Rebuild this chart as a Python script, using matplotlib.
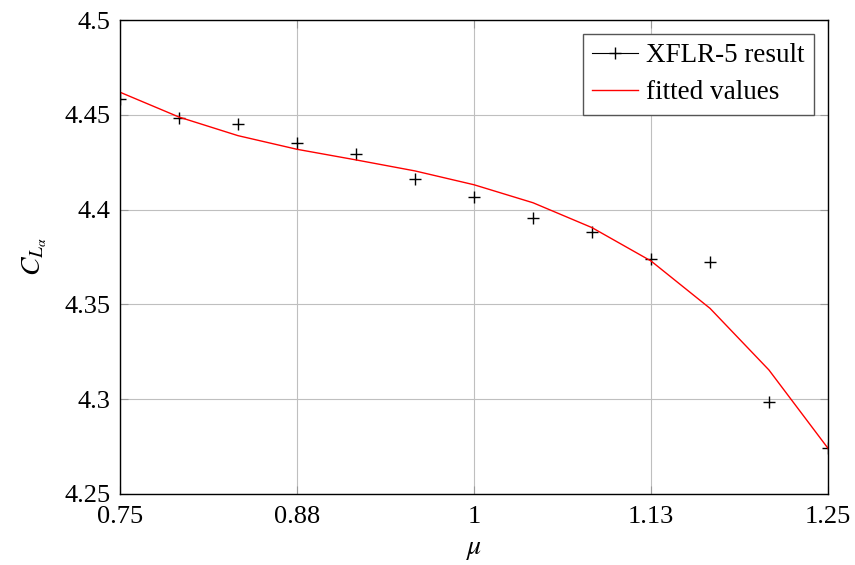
import numpy as np
import matplotlib
matplotlib.use('Agg')
import matplotlib.pyplot as plt

# Data
mu = [0.75, 0.7917, 0.8333, 0.875, 0.9167, 0.9583, 1.0, 1.0417, 1.0833, 1.125, 1.1667, 1.2083, 1.25]
cla_xflr = [4.4582, 4.4485, 4.4450, 4.4353, 4.4292, 4.4163, 4.4065, 4.3957, 4.3883, 4.3738, 4.3725, 4.2987, 4.2741]
cla_fit = [4.4619, 4.4488, 4.4390, 4.4318, 4.4262, 4.4204, 4.4131, 4.4036, 4.3905, 4.3729, 4.3479, 4.3154, 4.2741]

xticks = [0.75, 0.875, 1.0, 1.125, 1.25]
xticklabels = ['0.75', '0.88', '1', '1.13', '1.25']
yticks = [4.25, 4.3, 4.35, 4.4, 4.45, 4.5]
yticklabels = ['4.25', '4.3', '4.35', '4.4', '4.45', '4.5']

plt.rcParams['font.family'] = ['Liberation Serif', 'DejaVu Serif']
plt.rcParams['mathtext.fontset'] = 'stix'

fig = plt.figure(figsize=(8.55, 5.65), dpi=100)
ax = fig.add_axes([0.1404, 0.1257, 0.8280, 0.8389])

ax.plot(mu, cla_xflr, color='black', linewidth=0, marker='+',
        markersize=9, markeredgewidth=1.0, label='XFLR-5 result')
ax.plot(mu, cla_fit, color='red', linewidth=1.0, label='fitted values')

ax.set_xlim(0.75, 1.25)
ax.set_ylim(4.25, 4.5)
ax.set_xticks(xticks)
ax.set_xticklabels(xticklabels)
ax.set_yticks(yticks)
ax.set_yticklabels(yticklabels)
ax.grid(True, color='#bfbfbf', linewidth=0.8)
ax.set_axisbelow(True)
ax.tick_params(direction='in', length=6, color='#999999', top=True, right=True,
               labelsize=19)
ax.tick_params(axis='x', pad=9)
ax.tick_params(axis='y', pad=7)
for s in ax.spines.values():
    s.set_linewidth(1.0)

ax.set_xlabel(r'$\mu$', fontsize=20, labelpad=6)
ax.set_ylabel(r'$C_{L_\alpha}$', fontsize=20, labelpad=11)

# legend handle: line with + marker
h1, = ax.plot([], [], color='black', linewidth=0.8, marker='+', markersize=9)
h2, = ax.plot([], [], color='red', linewidth=1.0)
leg = ax.legend([h1, h2], ['XFLR-5 result', 'fitted values'], loc='upper right',
                fontsize=19.5, frameon=True, fancybox=False, edgecolor='#555555',
                framealpha=1, borderaxespad=0.5, handlelength=1.7,
                labelspacing=0.45, borderpad=0.35, handletextpad=0.3)
leg.get_frame().set_linewidth(1.0)

fig.savefig('out.png', dpi=100)
